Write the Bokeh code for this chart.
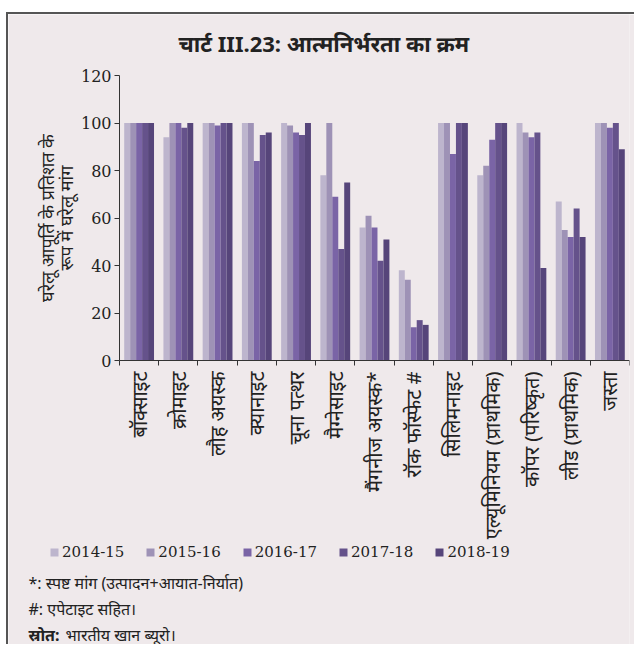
import math
from bokeh.plotting import figure
from bokeh.models import ColumnDataSource, Range1d, FixedTicker, Legend, LegendItem, Label
from bokeh.transform import dodge
from bokeh.embed import file_html
from bokeh.resources import INLINE

categories = ["बॉक्साइट", "क्रोमाइट", "लौह अयस्क", "क्यानाइट", "चूना पत्थर", "मैग्नेसाइट",
              "मैंगनीज अयस्क*", "रॉक फॉस्फेट #", "सिलिमनाइट", "एल्यूमिनियम (प्राथमिक)",
              "कॉपर (परिष्कृत)", "लीड (प्राथमिक)", "जस्ता"]
years = ["2014-15", "2015-16", "2016-17", "2017-18", "2018-19"]
v_2014_15 = [100, 94, 100, 100, 100, 78, 56, 38, 100, 78, 100, 67, 100]
v_2015_16 = [100, 100, 100, 100, 99, 100, 61, 34, 100, 82, 96, 55, 100]
v_2016_17 = [100, 100, 99, 84, 96, 69, 56, 14, 87, 93, 94, 52, 98]
v_2017_18 = [100, 98, 100, 95, 95, 47, 42, 17, 100, 100, 96, 64, 100]
v_2018_19 = [100, 100, 100, 96, 100, 75, 51, 15, 100, 100, 39, 52, 89]
y_ticks = [0, 20, 40, 60, 80, 100, 120]

title_text = "चार्ट III.23: आत्मनिर्भरता का क्रम"
y_label = "घरेलू आपूर्ति के प्रतिशत के\nरूप में घरेलू मांग"
note1 = "*: स्पष्ट मांग (उत्पादन+आयात-निर्यात)"
note2 = "#: एपेटाइट सहित।"
source_bold = "स्रोत:"
source_rest = "भारतीय खान ब्यूरो।"

BG = "#efe9eb"
colors = ["#bdb5cd", "#9e92b6", "#7a64a6", "#65528b", "#56457a"]
SANS = "Noto Sans"
SERIF = "DejaVu Serif"

series = [v_2014_15, v_2015_16, v_2016_17, v_2017_18, v_2018_19]
pos = list(range(1, len(categories) + 1))
data = {"x": pos}
for yname, vals in zip(years, series):
    data[yname] = vals
src = ColumnDataSource(data)

# the frame covers the whole canvas; axes are pinned inside it
W, H = 628, 632
px_x = 510 / 13.0          # pixels per category
px_y = 285 / 120.0         # pixels per percent
AX_LEFT, AX_ZERO = 111, 346   # axis origin inside the canvas (pixels from left / top)
x0 = 0.5 - AX_LEFT / px_x
y_top = AX_ZERO / px_y
y0 = -(H - AX_ZERO) / px_y

p = figure(width=W, height=H, output_backend="svg", toolbar_location=None,
           x_range=Range1d(x0, 13.5), y_range=Range1d(y0, y_top),
           min_border_left=0, min_border_right=7, min_border_top=0, min_border_bottom=0,
           background_fill_color=BG, border_fill_color=BG, outline_line_color=None,
           styles={"border-left": "2px solid #555", "border-top": "2px solid #555",
                   "margin-top": "12px", "margin-left": "6px"})
p.grid.visible = False

bw = 0.152
offsets = [-2 * bw, -bw, 0, bw, 2 * bw]
items = []
for yname, off, col in zip(years, offsets, colors):
    r = p.vbar(x=dodge("x", off), top=yname, width=bw, source=src,
               fill_color=col, line_color=None)
    items.append(LegendItem(label=yname, renderers=[r]))

xa = p.xaxis[0]
xa.fixed_location = 0
xa.bounds = (0.5, 13.5)
xa.ticker = FixedTicker(ticks=pos, minor_ticks=[i + 0.5 for i in range(0, len(categories) + 1)])
xa.major_label_overrides = {i: c for i, c in zip(pos, categories)}
xa.major_label_orientation = math.pi / 2
xa.major_tick_out = 0
xa.major_tick_in = 0
xa.minor_tick_out = 5
xa.minor_tick_in = 0
xa.major_label_standoff = 6
xa.major_label_text_font = SANS
xa.major_label_text_font_size = "20px"
xa.major_label_text_color = "#222"
xa.axis_line_color = "#333"
xa.minor_tick_line_color = "#333"

ya = p.yaxis[0]
ya.fixed_location = 0.5
ya.bounds = (0, 120)
ya.ticker = FixedTicker(ticks=y_ticks, minor_ticks=[])
ya.major_tick_out = 5
ya.major_tick_in = 0
ya.minor_tick_out = 0
ya.minor_tick_in = 0
ya.major_label_standoff = 3
ya.major_label_text_font = SERIF
ya.major_label_text_font_size = "16px"
ya.major_label_text_color = "#222"
ya.axis_line_color = "#333"
ya.major_tick_line_color = "#333"
ya.axis_label = y_label
ya.axis_label_text_font = SANS
ya.axis_label_text_font_style = "normal"
ya.axis_label_text_font_size = "18px"
ya.axis_label_text_line_height = 0.78
ya.axis_label_text_color = "#222"
ya.axis_label_standoff = 0

p.add_layout(Label(x=170, y=H - 28, x_units="screen", y_units="screen", text=title_text,
                   text_align="left", text_baseline="middle", text_font=SANS,
                   text_font_style="bold", text_font_size="22px", text_color="#222"))

legend = Legend(items=items, orientation="horizontal", location=(41, 85),
                background_fill_alpha=0, border_line_color=None,
                glyph_width=10, glyph_height=10, label_standoff=3, spacing=21,
                padding=0, margin=0,
                label_text_font=SERIF, label_text_font_size="15px", label_text_color="#222")
p.add_layout(legend, "center")

for txt, yy in [(note1, 64), (note2, 38)]:
    p.add_layout(Label(x=20, y=yy, x_units="screen", y_units="screen", text=txt,
                       text_align="left", text_baseline="middle",
                       text_font=SANS, text_font_size="16px", text_color="#222"))
p.add_layout(Label(x=20, y=12, x_units="screen", y_units="screen", text=source_bold,
                   text_align="left", text_baseline="middle",
                   text_font=SANS, text_font_style="bold", text_font_size="16px",
                   text_color="#222"))
p.add_layout(Label(x=57, y=12, x_units="screen", y_units="screen", text=source_rest,
                   text_align="left", text_baseline="middle",
                   text_font=SANS, text_font_size="16px", text_color="#222"))

open("out.html", "w").write(file_html(p, INLINE))
